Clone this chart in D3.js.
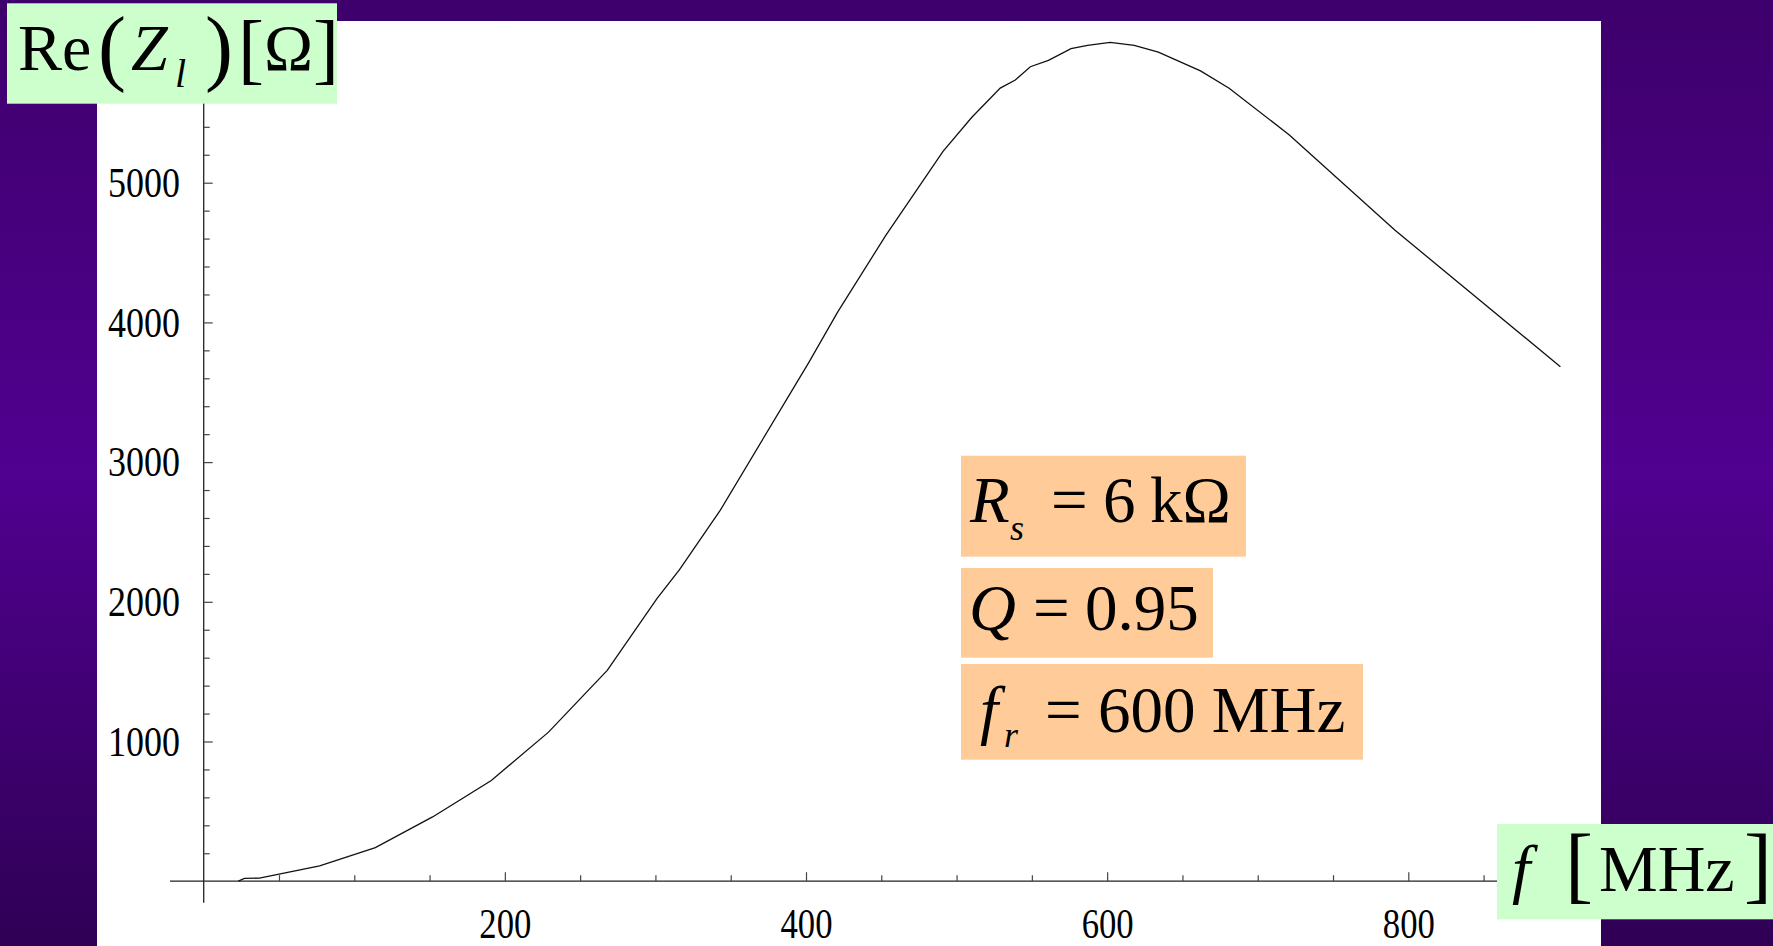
<!DOCTYPE html>
<html>
<head>
<meta charset="utf-8">
<script src="https://cdn.jsdelivr.net/npm/d3@7"></script>
<style>
  html, body { margin: 0; padding: 0; overflow: hidden; }
  svg { display: block; }
</style>
</head>
<body>
<script>
// frequency samples [MHz] and Re(Z_l) [Ohm]
const freq = [23, 27, 37, 77, 114, 152, 191, 229, 268, 301, 316, 343, 402, 421, 453,
              491, 510, 529, 539, 549, 561, 576, 587, 602, 618, 634, 662, 681, 721, 791, 901];
const reZ  = [0, 20, 22, 109, 241, 460, 721, 1067, 1509, 2023, 2230, 2654, 3716, 4074, 4623,
              5224, 5467, 5677, 5735, 5830, 5876, 5960, 5983, 6004, 5983, 5935, 5800, 5676, 5342, 4661, 3683];

// tick values
const xMajor = [200, 400, 600, 800];
const xMinor = [50, 100, 150, 250, 300, 350, 450, 500, 550, 650, 700, 750, 850, 900];
const yMajor = [1000, 2000, 3000, 4000, 5000];
const yMinor = [200, 400, 600, 800, 1200, 1400, 1600, 1800, 2200, 2400, 2600, 2800,
                3200, 3400, 3600, 3800, 4200, 4400, 4600, 4800, 5200, 5400, 5600];

const W = 1773, H = 946;
const serif = "'Liberation Serif', 'Times New Roman', serif";

const svg = d3.select("body").append("svg")
  .attr("width", W)
  .attr("height", H);

// purple slide background
const grad = svg.append("defs").append("linearGradient")
  .attr("id", "bg").attr("x1", 0).attr("y1", 0).attr("x2", 0).attr("y2", 1);
grad.append("stop").attr("offset", "0%").attr("stop-color", "#3e006c");
grad.append("stop").attr("offset", "50%").attr("stop-color", "#510090");
grad.append("stop").attr("offset", "100%").attr("stop-color", "#2f0055");
svg.append("rect").attr("width", W).attr("height", H).attr("fill", "url(#bg)");

// white plot panel
svg.append("rect")
  .attr("x", 97).attr("y", 21)
  .attr("width", 1504).attr("height", H - 21)
  .attr("fill", "#ffffff");

// scales
const x = d3.scaleLinear().domain([0, 800]).range([203.7, 1408.3]);
const y = d3.scaleLinear().domain([0, 5000]).range([881.2, 182.7]);

// axis lines (crossing at origin, overshooting a little)
svg.append("line")
  .attr("x1", 170).attr("x2", x(930))
  .attr("y1", y(0)).attr("y2", y(0))
  .attr("stroke", "#222").attr("stroke-width", 1.3);
svg.append("line")
  .attr("x1", x(0)).attr("x2", x(0))
  .attr("y1", 902.7).attr("y2", y(6200))
  .attr("stroke", "#222").attr("stroke-width", 1.3);

// x ticks
const gx = svg.append("g")
  .attr("transform", `translate(0,${y(0)})`)
  .call(d3.axisBottom(x).tickValues(xMajor).tickSize(-9).tickPadding(26).tickFormat(d3.format("d")));
gx.select(".domain").remove();
gx.selectAll("line").attr("stroke", "#444").attr("stroke-width", 1.2);
gx.selectAll("text")
  .attr("fill", "#000")
  .attr("font-family", serif)
  .attr("font-size", 43)
  .attr("textLength", 52)
  .attr("lengthAdjust", "spacingAndGlyphs");

const gxm = svg.append("g")
  .attr("transform", `translate(0,${y(0)})`)
  .call(d3.axisBottom(x).tickValues(xMinor).tickSize(-6).tickFormat(""));
gxm.select(".domain").remove();
gxm.selectAll("text").remove();
gxm.selectAll("line").attr("stroke", "#444").attr("stroke-width", 1.2);

// y ticks
const gy = svg.append("g")
  .attr("transform", `translate(${x(0)},0)`)
  .call(d3.axisLeft(y).tickValues(yMajor).tickSize(-9).tickPadding(23.7).tickFormat(d3.format("d")));
gy.select(".domain").remove();
gy.selectAll("line").attr("stroke", "#444").attr("stroke-width", 1.2);
gy.selectAll("text")
  .attr("fill", "#000")
  .attr("font-family", serif)
  .attr("font-size", 43)
  .attr("textLength", 72)
  .attr("lengthAdjust", "spacingAndGlyphs");

const gym = svg.append("g")
  .attr("transform", `translate(${x(0)},0)`)
  .call(d3.axisLeft(y).tickValues(yMinor).tickSize(-6).tickFormat(""));
gym.select(".domain").remove();
gym.selectAll("text").remove();
gym.selectAll("line").attr("stroke", "#444").attr("stroke-width", 1.2);

// the curve
const line = d3.line()
  .x((d, i) => x(freq[i]))
  .y(d => y(d));
svg.append("path")
  .datum(reZ)
  .attr("d", line)
  .attr("fill", "none")
  .attr("stroke", "#111")
  .attr("stroke-width", 1.3);

// a formula label: one text, pieces placed as tspans [x, y, string, size, italic]
function formula(pieces) {
  const t = svg.append("text")
    .attr("font-family", serif)
    .attr("fill", "#000");
  pieces.forEach(p => {
    t.append("tspan")
      .attr("x", p[0]).attr("y", p[1])
      .attr("font-size", p[3])
      .attr("font-style", p[4] ? "italic" : "normal")
      .text(p[2]);
  });
  return t;
}

// y axis label box
svg.append("rect")
  .attr("x", 7).attr("y", 3.3).attr("width", 330).attr("height", 100.4)
  .attr("fill", "#ccffcc");
formula([
  [18, 70, "Re", 66, false],
  [98, 75, "(", 84, false],
  [131, 70, "Z", 66, true],
  [175, 87, "l", 40, true],
  [205, 75, ")", 84, false],
  [238, 75, "[", 78, false],
  [264, 70, "\u03A9", 66, false],
  [313, 75, "]", 78, false]
]);

// x axis label box
svg.append("rect")
  .attr("x", 1497).attr("y", 824).attr("width", 276).attr("height", 95.3)
  .attr("fill", "#ccffcc");
formula([
  [1512, 891, "f", 66, true],
  [1565, 893, "[", 84, false],
  [1599, 891, "MHz", 66, false],
  [1744, 893, "]", 84, false]
]);

// parameter boxes
const boxFill = "#ffcc99";
svg.append("rect").attr("x", 961).attr("y", 455.7).attr("width", 285).attr("height", 101).attr("fill", boxFill);
svg.append("rect").attr("x", 961).attr("y", 568).attr("width", 252).attr("height", 89.7).attr("fill", boxFill);
svg.append("rect").attr("x", 961).attr("y", 664).attr("width", 402).attr("height", 95.7).attr("fill", boxFill);

formula([
  [970, 521.7, "R", 65, true],
  [1010, 540, "s", 36, true],
  [1051, 521.7, "=", 65, false],
  [1103, 521.7, "6", 65, false],
  [1150, 521.7, "k\u03A9", 65, false]
]);
formula([
  [969, 630, "Q", 65, true],
  [1033, 630, "=", 65, false],
  [1085, 630, "0.95", 65, false]
]);
formula([
  [980, 731.7, "f", 65, true],
  [1004, 746.7, "r", 36, true],
  [1045, 731.7, "=", 65, false],
  [1098, 731.7, "600 MHz", 65, false]
]);
</script>
</body>
</html>
